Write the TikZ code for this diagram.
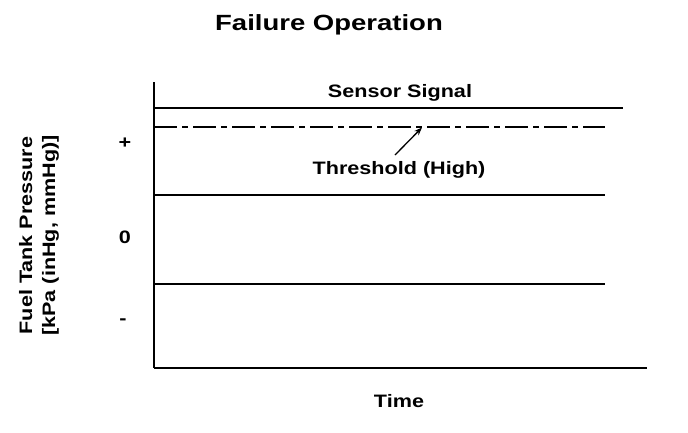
\documentclass[tikz,border=0pt]{standalone}
\usepackage{fontspec}
\newfontfamily\lab[FakeStretch=1.2]{Liberation Sans}
\newfontfamily\ttl[FakeStretch=1.25]{Liberation Sans}
\usetikzlibrary{arrows.meta}
\begin{document}
\begin{tikzpicture}[x=1pt,y=-1pt,
  every node/.style={inner sep=0pt},
  lbl/.style={font=\lab\bfseries\fontsize{18}{20}\selectfont},
  titletext/.style={font=\ttl\bfseries\fontsize{22}{24}\selectfont},
  hline/.style={line width=1.8pt},
  vline/.style={line width=1.2pt},
  thrline/.style={line width=1.8pt, dash pattern=on 23pt off 5pt on 6pt off 5pt},
  pointer/.style={line width=1.3pt, -{Stealth[length=8pt,width=6pt]}}]
\fill[white] (0,0) rectangle (688,432);
\useasboundingbox (0,0) rectangle (688,432);
% title
\node[titletext, anchor=base] (title) at (329,30) {Failure Operation};
% axes
\coordinate (axtop) at (154,82);
\coordinate (axorg) at (154,368);
\coordinate (axend) at (647,368);
\draw[vline] (axtop) -- (axorg);
\draw[hline] (axorg) -- (axend);
% sensor signal line
\coordinate (s1) at (154,108);
\coordinate (s2) at (623,108);
\draw[hline] (s1) -- (s2);
\node[lbl, anchor=base] (sensor) at (400,97) {Sensor Signal};
% threshold
\coordinate (t1) at (154,127);
\coordinate (t2) at (605,127);
\draw[thrline] (t1) -- (t2);
\node[lbl, anchor=base] (thr) at (399,174) {Threshold (High)};
\coordinate (pstart) at (395,155);
\coordinate (ptip) at (422,127.5);
\draw[pointer] (pstart) -- (ptip);
% other lines
\coordinate (a1) at (154,195);
\coordinate (a2) at (605,195);
\draw[hline] (a1) -- (a2);
\coordinate (b1) at (154,284);
\coordinate (b2) at (605,284);
\draw[hline] (b1) -- (b2);
% tick labels
\node[lbl] (plus) at (125,143) {+};
\node[lbl] (zero) at (125,237) {0};
\node[lbl] (minus) at (123,322) {-};
% axis labels
\node[lbl, rotate=90, anchor=base] (yl1) at (32,235.5) {Fuel Tank Pressure};
\node[lbl, rotate=90, anchor=base] (yl2) at (55,235.5) {[kPa (inHg, mmHg)]};
\node[lbl, anchor=base] (time) at (399,407) {Time};
\end{tikzpicture}
\end{document}
